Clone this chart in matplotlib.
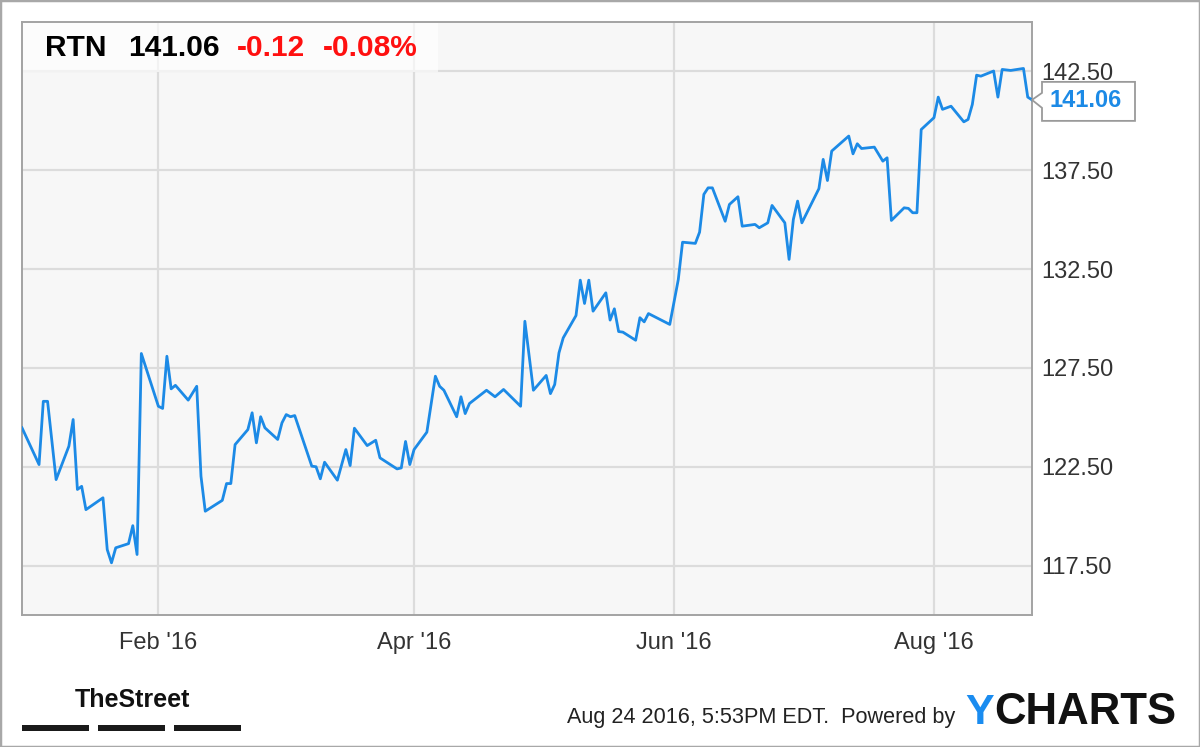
import numpy as np
import pandas as pd
import matplotlib
matplotlib.use("Agg")
import matplotlib.pyplot as plt
import matplotlib.dates as mdates
from matplotlib.patches import Rectangle, Polygon
from matplotlib.transforms import IdentityTransform

# RTN closing prices
dates = [
    "2015-12-31", "2016-01-04", "2016-01-05", "2016-01-06", "2016-01-08", "2016-01-11",
    "2016-01-12", "2016-01-13", "2016-01-14", "2016-01-15", "2016-01-19", "2016-01-20",
    "2016-01-21", "2016-01-22", "2016-01-25", "2016-01-26", "2016-01-27", "2016-01-28",
    "2016-02-01", "2016-02-02", "2016-02-03", "2016-02-04", "2016-02-05", "2016-02-08",
    "2016-02-10", "2016-02-11", "2016-02-12", "2016-02-16", "2016-02-17", "2016-02-18",
    "2016-02-19", "2016-02-22", "2016-02-23", "2016-02-24", "2016-02-25", "2016-02-26",
    "2016-02-29", "2016-03-01", "2016-03-02", "2016-03-03", "2016-03-04", "2016-03-08",
    "2016-03-09", "2016-03-10", "2016-03-11", "2016-03-14", "2016-03-16", "2016-03-17",
    "2016-03-18", "2016-03-21", "2016-03-23", "2016-03-24", "2016-03-28", "2016-03-29",
    "2016-03-30", "2016-03-31", "2016-04-01", "2016-04-04", "2016-04-06", "2016-04-07",
    "2016-04-08", "2016-04-11", "2016-04-12", "2016-04-13", "2016-04-14", "2016-04-18",
    "2016-04-20", "2016-04-22", "2016-04-26", "2016-04-27", "2016-04-29", "2016-05-02",
    "2016-05-03", "2016-05-04", "2016-05-05", "2016-05-06", "2016-05-09", "2016-05-10",
    "2016-05-11", "2016-05-12", "2016-05-13", "2016-05-16", "2016-05-17", "2016-05-18",
    "2016-05-19", "2016-05-20", "2016-05-23", "2016-05-24", "2016-05-25", "2016-05-26",
    "2016-05-31", "2016-06-02", "2016-06-03", "2016-06-06", "2016-06-07", "2016-06-08",
    "2016-06-09", "2016-06-10", "2016-06-13", "2016-06-14", "2016-06-16", "2016-06-17",
    "2016-06-20", "2016-06-21", "2016-06-23", "2016-06-24", "2016-06-27", "2016-06-28",
    "2016-06-29", "2016-06-30", "2016-07-01", "2016-07-05", "2016-07-06", "2016-07-07",
    "2016-07-08", "2016-07-12", "2016-07-13", "2016-07-14", "2016-07-15", "2016-07-18",
    "2016-07-20", "2016-07-21", "2016-07-22", "2016-07-25", "2016-07-26", "2016-07-27",
    "2016-07-28", "2016-07-29", "2016-08-01", "2016-08-02", "2016-08-03", "2016-08-05",
    "2016-08-08", "2016-08-09", "2016-08-10", "2016-08-11", "2016-08-12", "2016-08-15",
    "2016-08-16", "2016-08-17", "2016-08-19", "2016-08-22", "2016-08-23", "2016-08-24",
]
prices = [
    124.47, 122.61, 125.81, 125.81, 121.85, 123.54,
    124.89, 121.35, 121.51, 120.33, 120.93, 118.31,
    117.64, 118.40, 118.61, 119.52, 118.06, 128.23,
    125.56, 125.45, 128.09, 126.44, 126.62, 125.87,
    126.57, 122.02, 120.25, 120.80, 121.65, 121.65,
    123.62, 124.38, 125.23, 123.71, 125.03, 124.47,
    123.88, 124.72, 125.14, 125.03, 125.09, 122.53,
    122.50, 121.89, 122.73, 121.82, 123.37, 122.56,
    124.45, 123.57, 123.84, 122.95, 122.39, 122.44,
    123.78, 122.61, 123.37, 124.25, 127.08, 126.57,
    126.37, 125.03, 126.04, 125.19, 125.70, 126.37,
    126.04, 126.41, 125.56, 129.86, 126.37, 127.12,
    126.20, 126.66, 128.26, 129.02, 130.15, 131.94,
    130.76, 131.94, 130.37, 131.30, 129.92, 130.49,
    129.34, 129.31, 128.90, 130.04, 129.83, 130.25,
    129.70, 131.97, 133.86, 133.80, 134.37, 136.28,
    136.61, 136.61, 134.92, 135.77, 136.16, 134.67,
    134.76, 134.59, 134.84, 135.72, 134.84, 132.99,
    135.01, 135.94, 134.84, 136.57, 138.05, 136.98,
    138.47, 139.23, 138.33, 138.84, 138.60, 138.67,
    137.96, 138.13, 134.96, 135.60, 135.57, 135.35,
    135.35, 139.56, 140.16, 141.20, 140.58, 140.74,
    139.95, 140.07, 140.83, 142.31, 142.26, 142.52,
    141.20, 142.60, 142.55, 142.65, 141.20, 141.06,
]

ticker = "RTN"
last_price = "141.06"
change = "-0.12"
change_pct = "-0.08%"
y_ticks = [117.5, 122.5, 127.5, 132.5, 137.5, 142.5]
x_ticks = ["2016-02-01", "2016-04-01", "2016-06-01", "2016-08-01"]
x_labels = ["Feb '16", "Apr '16", "Jun '16", "Aug '16"]
stamp = "Aug 24 2016, 5:53PM EDT.  Powered by"

blue = "#1c8ae6"
grid_c = "#dcdcdc"
frame_c = "#a3a3a3"
sans = ["Liberation Sans", "DejaVu Sans"]

x = pd.to_datetime(dates)
W, H = 1200, 747
fig = plt.figure(figsize=(W / 100, H / 100), dpi=100)
fig.patch.set_facecolor("white")

ax = fig.add_axes([22 / W, 1 - 615 / H, 1010 / W, 593 / H])
ax.set_facecolor("#f7f7f7")
ax.plot(x, prices, color=blue, lw=2.0, zorder=3, solid_joinstyle="round")

ax.set_xlim(x[0], x[-1])
ax.set_ylim(115.0, 145.0)
ax.set_yticks(y_ticks)
ax.set_yticklabels([f"{v:.2f}" for v in y_ticks])
ax.set_xticks(pd.to_datetime(x_ticks))
ax.set_xticklabels(x_labels)
ax.yaxis.tick_right()
ax.tick_params(axis="both", length=0, labelsize=17, labelcolor="#333333")
ax.tick_params(axis="y", pad=7)
ax.tick_params(axis="x", pad=12)
for lab in ax.get_xticklabels() + ax.get_yticklabels():
    lab.set_family(sans)
ax.grid(True, color=grid_c, lw=1.6, zorder=0)
for s in ax.spines.values():
    s.set_color(frame_c)
    s.set_linewidth(1.4)

# header box in the top-left corner
ax.add_patch(Rectangle((0, 1 - 50 / 593), 416 / 1010, 50 / 593, transform=ax.transAxes,
                       facecolor="white", alpha=0.65, edgecolor="none", zorder=2))
hy = 1 - 48 / H
fig.text(45 / W, hy, ticker, fontsize=21.5, fontweight="bold", family=sans, va="center")
fig.text(128 / W, hy, last_price, fontsize=21.5, fontweight="bold", family=sans, va="center")
fig.text(237 / W, hy, change, fontsize=21.5, fontweight="bold", family=sans, va="center", color="#ff1010")
fig.text(323 / W, hy, change_pct, fontsize=21.5, fontweight="bold", family=sans, va="center", color="#ff1010")

# last value callout on the right axis
tx, ty = ax.transData.transform((mdates.date2num(x[-1]), prices[-1]))
left, right = tx + 10, tx + 103
top, bot = ty + 18, ty - 21
pts = [(left, top), (right, top), (right, bot), (left, bot), (left, ty - 8), (tx, ty), (left, ty + 7)]
fig.add_artist(Polygon(pts, closed=True, transform=IdentityTransform(), facecolor="white",
                       edgecolor="#9a9a9a", lw=1.3, zorder=5))
fig.text((tx + 54) / W, (ty - 1) / H, last_price, fontsize=17, fontweight="bold", color=blue,
         family=sans, ha="center", va="center", zorder=6)

# footer
fig.text(132 / W, 1 - 700 / H, "TheStreet", fontsize=18, fontweight="bold", family=sans,
         ha="center", va="center", color="#111111")
for bx in [22, 98, 174]:
    fig.add_artist(Rectangle((bx / W, 1 - 731 / H), 67 / W, 6 / H, transform=fig.transFigure,
                             facecolor="#1a1a1a", edgecolor="none"))
fig.text(955 / W, 1 - 718 / H, stamp, fontsize=15.6, family=sans, ha="right", va="center",
         color="#222222")
fig.text(965 / W, 1 - 713 / H, "Y", fontsize=31, fontweight="bold", family=sans, va="center",
         color="#1a8cf0")
fig.text(994 / W, 1 - 713 / H, "CHARTS", fontsize=31.5, fontweight="bold", family=sans, va="center",
         color="#111111")

# outer frame
fig.add_artist(Rectangle((0, 0), 1, 1, transform=fig.transFigure, fill=False,
                         edgecolor="#a8a8a8", lw=2.5))

fig.savefig("out.png", dpi=100)
